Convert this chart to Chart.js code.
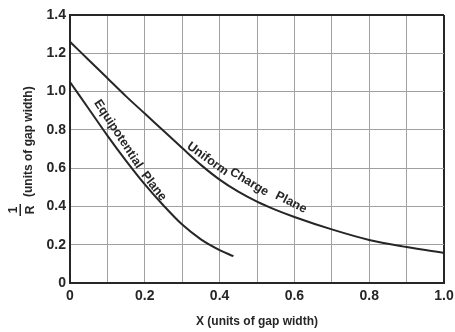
<!DOCTYPE html>
<html>
<head>
<meta charset="utf-8">
<script src="https://cdn.jsdelivr.net/npm/chart.js@4.4.1/dist/chart.umd.min.js"></script>
<style>
  html, body { margin: 0; padding: 0; background: #fff; }
  #wrap { width: 455px; height: 332px; position: relative; }
</style>
</head>
<body>
<div id="wrap"><canvas id="c" width="455" height="332"></canvas></div>
<script>
// Gap position X and reciprocal radius 1/R, both in units of gap width
const uniformX = [0, 0.05, 0.1, 0.15, 0.2, 0.25, 0.3, 0.35, 0.4, 0.45, 0.5, 0.55, 0.6, 0.7, 0.8, 0.9, 1.0];
const uniformY = [1.26, 1.165, 1.07, 0.975, 0.885, 0.795, 0.705, 0.617, 0.54, 0.477, 0.425, 0.382, 0.345, 0.28, 0.225, 0.188, 0.157];

const equipX = [0, 0.05, 0.1, 0.15, 0.2, 0.25, 0.3, 0.35, 0.4, 0.437];
const equipY = [1.05, 0.91, 0.77, 0.638, 0.515, 0.405, 0.305, 0.228, 0.172, 0.14];

const xTickLabels = ['0', '0.2', '0.4', '0.6', '0.8', '1.0'];
const yTickLabels = ['0', '0.2', '0.4', '0.6', '0.8', '1.0', '1.2', '1.4'];

// Curve captions, placed in data coordinates along each curve
const curveLabels = [
  { text: 'Equipotential', x: 0.129, y: 0.778, angle: 57 },
  { text: 'Plane',         x: 0.224, y: 0.505, angle: 52 },
  { text: 'Uniform',       x: 0.368, y: 0.648, angle: 36 },
  { text: 'Charge',        x: 0.479, y: 0.527, angle: 31 },
  { text: 'Plane',         x: 0.591, y: 0.421, angle: 27 }
];

const INK = '#262626';
const GRID = '#a0a0a0';
const TICK_FONT = { family: '"Liberation Sans Narrow", "Liberation Sans", sans-serif', size: 14, weight: 'bold' };

const toPoints = (xs, ys) => xs.map((x, i) => ({ x: x, y: ys[i] }));

const captionPlugin = {
  id: 'captions',
  afterDatasetsDraw(chart) {
    const { ctx, scales } = chart;
    ctx.save();
    ctx.fillStyle = INK;
    ctx.font = 'bold 12.5px "Liberation Sans", sans-serif';
    ctx.textAlign = 'center';
    ctx.textBaseline = 'middle';
    curveLabels.forEach(l => {
      const px = scales.x.getPixelForValue(l.x);
      const py = scales.y.getPixelForValue(l.y);
      ctx.save();
      ctx.translate(px, py);
      ctx.rotate(l.angle * Math.PI / 180);
      ctx.fillText(l.text, 0, 0);
      ctx.restore();
    });
    ctx.restore();
  },
  afterDraw(chart) {
    // vertical axis title: fraction 1/R followed by the unit note
    const { ctx, chartArea } = chart;
    const cy = (chartArea.top + chartArea.bottom) / 2 - 1;
    ctx.save();
    ctx.translate(28, cy);
    ctx.rotate(-Math.PI / 2);
    ctx.fillStyle = INK;
    ctx.font = 'bold 12px "Liberation Sans", sans-serif';
    ctx.textBaseline = 'middle';
    ctx.textAlign = 'left';
    ctx.fillText('(units of gap width)', -49, 1);
    ctx.textAlign = 'center';
    ctx.fillText('1', -62, -14);
    ctx.fillText('R', -62, 3);
    ctx.fillRect(-68, -8.5, 12, 1.5);
    ctx.restore();
  }
};

new Chart(document.getElementById('c'), {
  type: 'line',
  data: {
    datasets: [
      {
        label: 'Uniform Charge Plane',
        data: toPoints(uniformX, uniformY),
        borderColor: INK,
        borderWidth: 2,
        pointRadius: 0,
        cubicInterpolationMode: 'monotone',
        fill: false
      },
      {
        label: 'Equipotential Plane',
        data: toPoints(equipX, equipY),
        borderColor: INK,
        borderWidth: 2,
        pointRadius: 0,
        cubicInterpolationMode: 'monotone',
        fill: false
      }
    ]
  },
  options: {
    responsive: false,
    animation: false,
    events: [],
    layout: { padding: { left: 0, right: 11, top: 15, bottom: 0 } },
    plugins: {
      legend: { display: false },
      tooltip: { enabled: false }
    },
    scales: {
      x: {
        type: 'linear',
        min: 0,
        max: 1,
        afterFit(scale) {
          scale.height = 49;
          scale.paddingLeft = 0;
          scale.paddingRight = 0;
        },
        ticks: {
          stepSize: 0.1,
          padding: 5,
          maxRotation: 0,
          autoSkip: false,
          color: INK,
          font: TICK_FONT,
          callback(v) {
            const k = Math.round(v * 10);
            return k % 2 === 0 ? xTickLabels[k / 2] : '';
          }
        },
        grid: {
          drawTicks: false,
          color: ctx => (ctx.tick && Math.abs(ctx.tick.value - 1) < 1e-6) ? INK : GRID,
          lineWidth: ctx => (ctx.tick && Math.abs(ctx.tick.value - 1) < 1e-6) ? 2 : 1
        },
        border: { color: INK, width: 2 },
        title: {
          display: true,
          text: 'X (units of gap width)',
          color: INK,
          font: { family: '"Liberation Sans", sans-serif', size: 12, weight: 'bold' },
          padding: { top: 0, bottom: 3 }
        }
      },
      y: {
        type: 'linear',
        min: 0,
        max: 1.4,
        afterFit(scale) {
          scale.width = 70;
          scale.paddingTop = 0;
          scale.paddingBottom = 0;
        },
        ticks: {
          stepSize: 0.2,
          padding: 4,
          color: INK,
          font: TICK_FONT,
          callback(v) {
            return yTickLabels[Math.round(v / 0.2)];
          }
        },
        grid: {
          drawTicks: false,
          color: ctx => (ctx.tick && Math.abs(ctx.tick.value - 1.4) < 1e-6) ? INK : GRID,
          lineWidth: ctx => (ctx.tick && Math.abs(ctx.tick.value - 1.4) < 1e-6) ? 2 : 1
        },
        border: { color: INK, width: 2 }
      }
    }
  },
  plugins: [captionPlugin]
});
</script>
</body>
</html>
